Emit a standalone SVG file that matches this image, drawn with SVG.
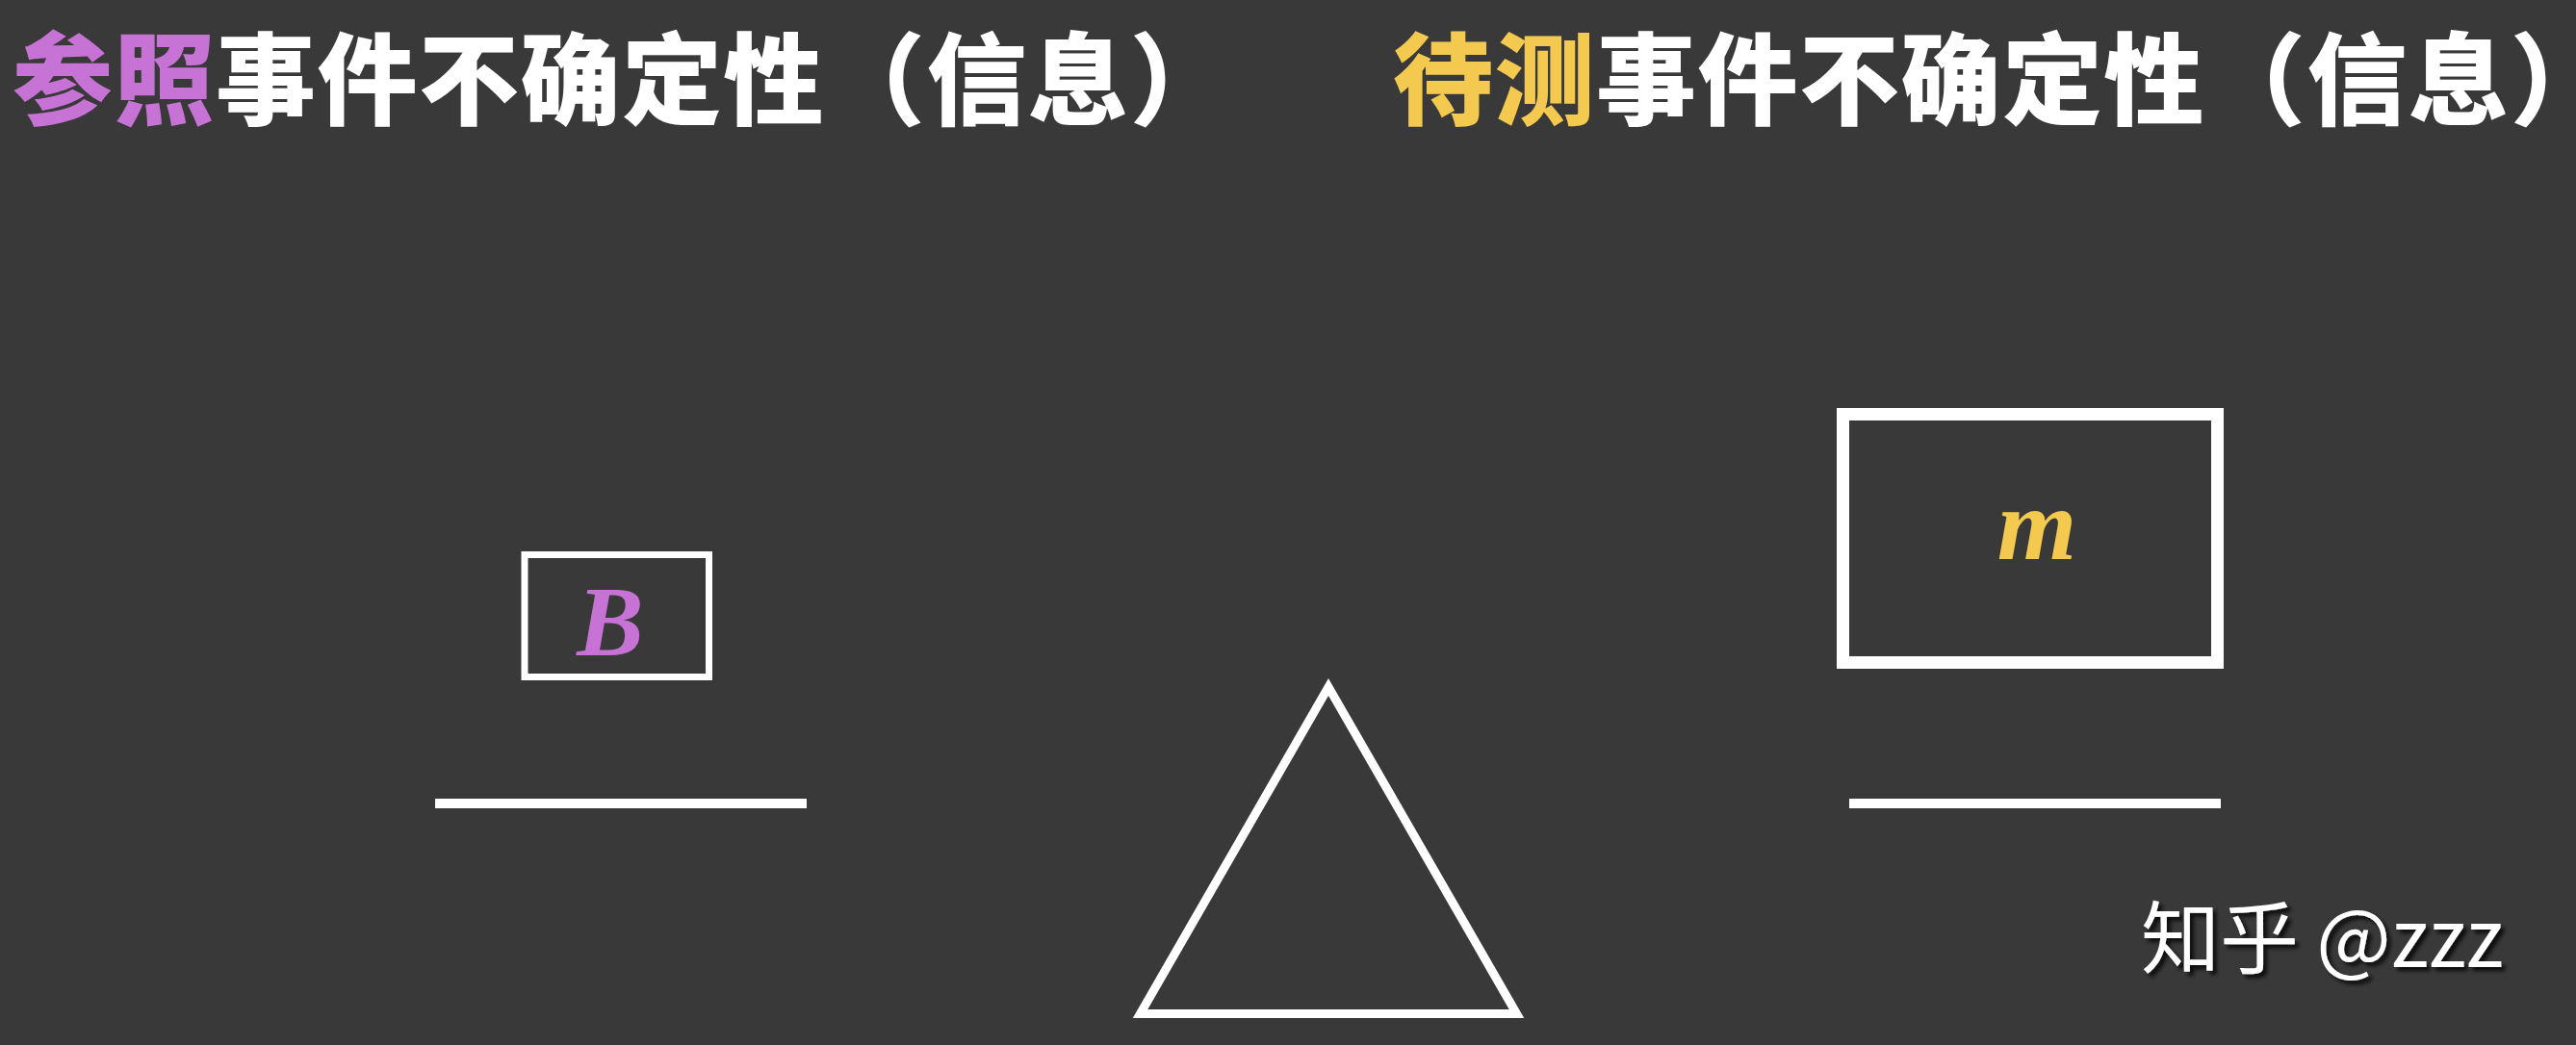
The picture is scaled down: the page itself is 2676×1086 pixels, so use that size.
<svg xmlns="http://www.w3.org/2000/svg" width="2676" height="1086" viewBox="0 0 2676 1086">
<defs>
<style>
.title{font-family:"Noto Sans CJK SC","Noto Sans",sans-serif;font-weight:900;font-size:104px;letter-spacing:1.5px;fill:#ffffff}
.half{font-feature-settings:"halt" 1;letter-spacing:0}
.purple{fill:#c773d6}
.yellow{fill:#f3ca4f}
.box{fill:none;stroke:#ffffff}
.beam{stroke:#ffffff;stroke-width:10;fill:none}
.var{font-family:"Liberation Serif",serif;font-weight:700;font-style:italic;text-anchor:middle}
.wm{font-family:"Noto Sans CJK SC","Noto Sans",sans-serif;font-size:82px;fill:#ffffff}
</style>
<filter id="shadow" x="-10%" y="-30%" width="120%" height="160%">
<feDropShadow dx="4" dy="4" stdDeviation="2" flood-color="#000000" flood-opacity="0.8"/>
</filter>
</defs>
<rect x="0" y="0" width="2676" height="1086" fill="#393939"/>
<g id="title-left">
<text class="title" x="13" y="122"><tspan class="purple">参照</tspan>事件不确定性（信息<tspan class="half">）</tspan></text>
</g>
<g id="title-right">
<text class="title" x="1447" y="122"><tspan class="yellow">待测</tspan>事件不确定性（信息<tspan class="half">）</tspan></text>
</g>
<g id="node-B">
<rect class="box" x="545" y="576.5" width="191.5" height="127" stroke-width="7"/>
<text class="var purple" x="634" y="681" font-size="104">B</text>
</g>
<g id="node-m">
<rect class="box" x="1914.5" y="430.5" width="389" height="258" stroke-width="13"/>
<text class="var yellow" x="2116" y="581" font-size="106">m</text>
</g>
<g id="connectors">
<line class="beam" x1="452" y1="835" x2="838" y2="835"/>
<line class="beam" x1="1921" y1="835" x2="2307" y2="835"/>
</g>
<g id="fulcrum">
<polygon points="1380,714 1184.5,1053.5 1575.5,1053.5" fill="none" stroke="#ffffff" stroke-width="9"/>
</g>
<g id="watermark">
<text class="wm" x="2224" y="1005" filter="url(#shadow)">知乎 @zzz</text>
</g>
</svg>
